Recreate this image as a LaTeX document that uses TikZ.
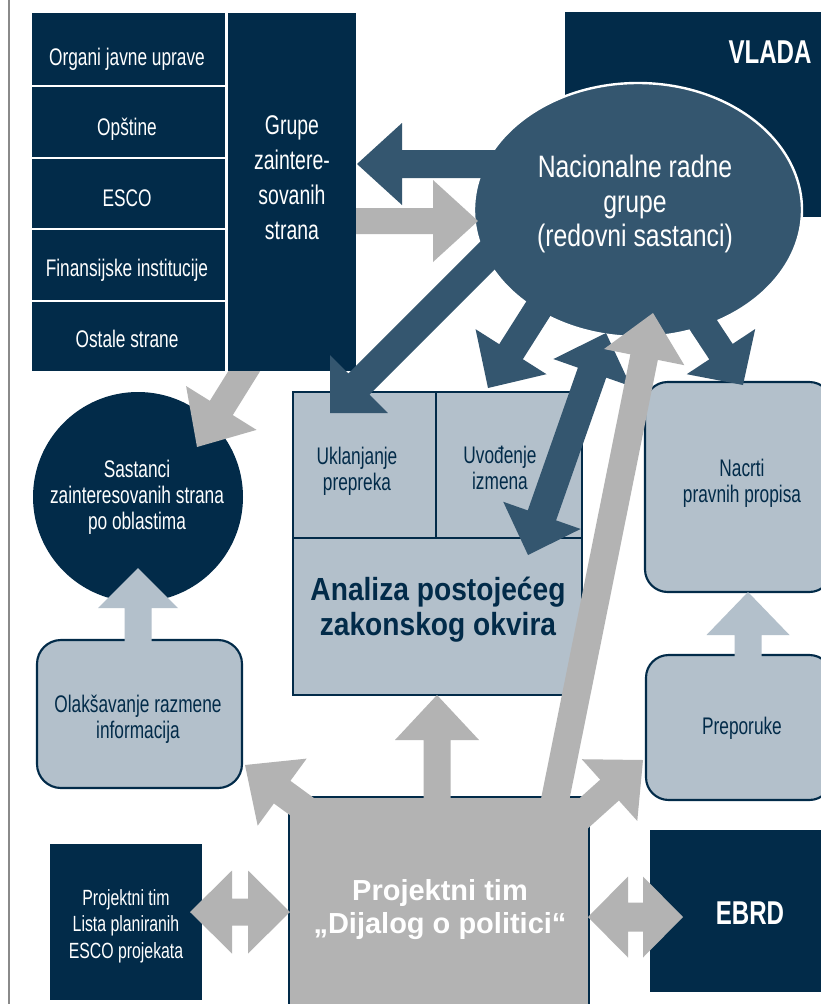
\documentclass[tikz,border=0pt]{standalone}
\usepackage{fontspec}
\usetikzlibrary{calc,shapes.geometric}
\setmainfont{Liberation Sans}
\newfontfamily\cnd{Liberation Sans}[FakeStretch=0.72]
\newfontfamily\lite{Liberation Sans}[FakeStretch=0.8]
\newfontfamily\hvy{Liberation Sans}[FakeStretch=0.73]
\newfontfamily\hvyb{Liberation Sans}[FakeStretch=0.88]
\definecolor{navy}{HTML}{022B49}
\definecolor{steel}{HTML}{34566F}
\definecolor{lightb}{HTML}{B3C0CB}
\definecolor{grayA}{HTML}{B3B3B3}
\definecolor{lineg}{HTML}{8A8A8A}
% block arrow: color, start, tip, shaft half width, head half width, head length
\newcommand\blkarr[6]{%
 \path ($(#3)!#6!(#2)$) coordinate (bh);
 \fill[#1] ($(#2)!#4!90:(#3)$) -- ($(bh)!#4!90:(#3)$) -- ($(bh)!#5!90:(#3)$) -- (#3)
   -- ($(bh)!#5!-90:(#3)$) -- ($(bh)!#4!-90:(#3)$) -- ($(#2)!#4!-90:(#3)$) -- cycle;}
% double block arrow: color, tip A, tip B, shaft half, head half, head length
\newcommand\dblarr[6]{%
 \path ($(#2)!#6!(#3)$) coordinate (ba) ($(#3)!#6!(#2)$) coordinate (bb);
 \fill[#1] (#2) -- ($(ba)!#5!90:(#3)$) -- ($(ba)!#4!90:(#3)$) -- ($(bb)!#4!-90:(#2)$)
   -- ($(bb)!#5!-90:(#2)$) -- (#3) -- ($(bb)!#5!90:(#2)$) -- ($(bb)!#4!90:(#2)$)
   -- ($(ba)!#4!-90:(#3)$) -- ($(ba)!#5!-90:(#3)$) -- cycle;}
\newcommand\smf{\cnd\fontsize{18}{19.5}\selectfont}
\tikzset{
 wt/.style={text=white, align=center, inner sep=0pt},
 nt/.style={text=navy, align=center, inner sep=0pt},
 lbox/.style={draw=navy, fill=lightb, line width=1.6pt, rounded corners=17pt},
}
\begin{document}
\begin{tikzpicture}[x=0.75pt,y=-0.75pt]
\useasboundingbox (0,0) rectangle (821,1004);
\fill[white] (0,0) rectangle (821,1004);
\draw[lineg, line width=1pt] (9,0) -- (9,1004);
% VLADA
\fill[navy] (565,12) rectangle (830,217);
% Sastanci circle
\node[circle, fill=navy, minimum size=157.5pt, inner sep=0pt] (sastc) at (138,497) {};
% gray arrow Grupe -> Sastanci
\coordinate (a8s) at (258,349); \coordinate (a8t) at (197,447);
\blkarr{grayA}{a8s}{a8t}{10.125pt}{31.125pt}{34.5pt}
% stakeholder stack
\fill[navy] (32,13) rectangle (356,371);
\draw[white, line width=1.5pt] (32,86) -- (226.5,86) (32,157.5) -- (226.5,157.5)
  (32,229) -- (226.5,229) (32,301) -- (226.5,301);
\draw[white, line width=2.2pt] (226.7,13) -- (226.7,371);
% ellipse
\node[ellipse, fill=steel, draw=white, line width=1.8pt, minimum width=246pt,
  minimum height=190.5pt, inner sep=0pt] (nrgshape) at (638,210) {};
% Analiza box
\fill[lightb] (293,392) rectangle (582,695);
\draw[navy, line width=1.5pt] (293,392) rectangle (582,695);
\draw[navy, line width=1.2pt] (293,538) -- (582,538) (436,392) -- (436,538);
% Nacrti box
\draw[lbox] (645,382) rectangle (832,592);
% dark arrows from ellipse
\coordinate (a1s) at (500,164); \coordinate (a1t) at (357,164);
\blkarr{steel}{a1s}{a1t}{10.5pt}{30.75pt}{33.75pt}
\coordinate (a3s) at (500,243); \coordinate (a3t) at (330,413);
\blkarr{steel}{a3s}{a3t}{11.25pt}{30.75pt}{30.75pt}
\coordinate (a4s) at (547,295); \coordinate (a4t) at (488,388);
\blkarr{steel}{a4s}{a4t}{10.5pt}{31.5pt}{32.25pt}
\coordinate (a5a) at (606,333); \coordinate (a5b) at (528,555);
\dblarr{steel}{a5a}{a5b}{11.25pt}{30.75pt}{31.5pt}
\coordinate (a6s) at (677,285); \coordinate (a6t) at (743,385);
\blkarr{steel}{a6s}{a6t}{10.5pt}{30.75pt}{30pt}
% gray arrow Grupe -> ellipse
\coordinate (a2s) at (356,221); \coordinate (a2t) at (478,221);
\blkarr{grayA}{a2s}{a2t}{9.75pt}{30.75pt}{33.75pt}
% Olaksavanje, Preporuke
\draw[lbox, rounded corners=18pt] (37,640) rectangle (242,788);
\draw[lbox] (646,655) rectangle (832,800);
\coordinate (a9s) at (138,642); \coordinate (a9t) at (138,568);
\blkarr{lightb}{a9s}{a9t}{10.125pt}{30pt}{30pt}
\coordinate (a10s) at (748,657); \coordinate (a10t) at (748,592);
\blkarr{lightb}{a10s}{a10t}{10.125pt}{31.125pt}{32.25pt}
% Projektni tim box
\fill[grayA] (289,797) rectangle (589,1010);
\draw[navy, line width=1.3pt] (289,1010) -- (289,797) -- (589,797) -- (589,1010);
% gray long arrow to ellipse
\coordinate (a7s) at (548,835); \coordinate (a7t) at (653,313);
\blkarr{grayA}{a7s}{a7t}{10.5pt}{30.75pt}{33.75pt}
% gray arrows from project team
\coordinate (a11s) at (437,810); \coordinate (a11t) at (437,695);
\blkarr{grayA}{a11s}{a11t}{10.125pt}{31.5pt}{33.75pt}
\coordinate (a12s) at (334,830); \coordinate (a12t) at (245,765);
\blkarr{grayA}{a12s}{a12t}{10.5pt}{31.125pt}{34.5pt}
\coordinate (a13s) at (554,840); \coordinate (a13t) at (643,760);
\blkarr{grayA}{a13s}{a13t}{10.5pt}{31.125pt}{33.75pt}
% side boxes
\fill[navy] (50,844) rectangle (202,1000);
\fill[navy] (650,830) rectangle (830,992);
\coordinate (dla) at (190,912); \coordinate (dlb) at (290,912);
\dblarr{grayA}{dla}{dlb}{10.125pt}{31.125pt}{31.5pt}
\coordinate (dra) at (588,917); \coordinate (drb) at (683,917);
\dblarr{grayA}{dra}{drb}{10.875pt}{30.375pt}{30pt}
% texts
\node[wt, font=\hvy\bfseries\fontsize{24.75}{26}\selectfont] (vlada) at (770,52) {VLADA};
\node[wt, font=\smf] (organi) at (127,59) {Organi javne uprave};
\node[wt, font=\smf] (opstine) at (127,129) {Opštine};
\node[wt, font=\smf] (esco) at (127,198.5) {ESCO};
\node[wt, font=\smf] (finans) at (127,270) {Finansijske institucije};
\node[wt, font=\smf] (ostale) at (127,339) {Ostale strane};
\node[wt, font=\cnd\fontsize{20.25}{26.25}\selectfont] (grupe) at (292,178)
  {Grupe\\zaintere-\\sovanih\\strana};
\node[wt, font=\lite\fontsize{23.25}{26}\selectfont] (nrg) at (635,204)
  {Nacionalne radne\\grupe\\(redovni sastanci)};
\node[wt, font=\smf] (sast) at (137,497) {Sastanci\\zainteresovanih strana\\po oblastima};
\node[nt, font=\smf] (olak) at (138,719) {Olakšavanje razmene\\informacija};
\node[nt, font=\smf] (ukl) at (357,471) {Uklanjanje\\prepreka};
\node[nt, font=\smf] (uvo) at (500,468) {Uvođenje\\izmena};
\node[nt, font=\hvyb\bfseries\fontsize{24}{26.25}\selectfont] (analiza) at (438,610)
  {Analiza postojećeg\\zakonskog okvira};
\node[nt, font=\smf] (nacrti) at (742,483) {Nacrti\\pravnih propisa};
\node[nt, font=\smf] (prep) at (742,728) {Preporuke};
\node[wt, font=\cnd\fontsize{16.5}{20}\selectfont] (lista) at (126,926)
  {Projektni tim\\Lista planiranih\\ESCO projekata};
\node[wt, font=\bfseries\fontsize{21.75}{24.75}\selectfont] (dijalog) at (440,910)
  {Projektni tim\\„Dijalog o politici“};
\node[wt, font=\hvy\bfseries\fontsize{24.75}{26}\selectfont] (ebrd) at (750,913) {EBRD};
\end{tikzpicture}
\end{document}
